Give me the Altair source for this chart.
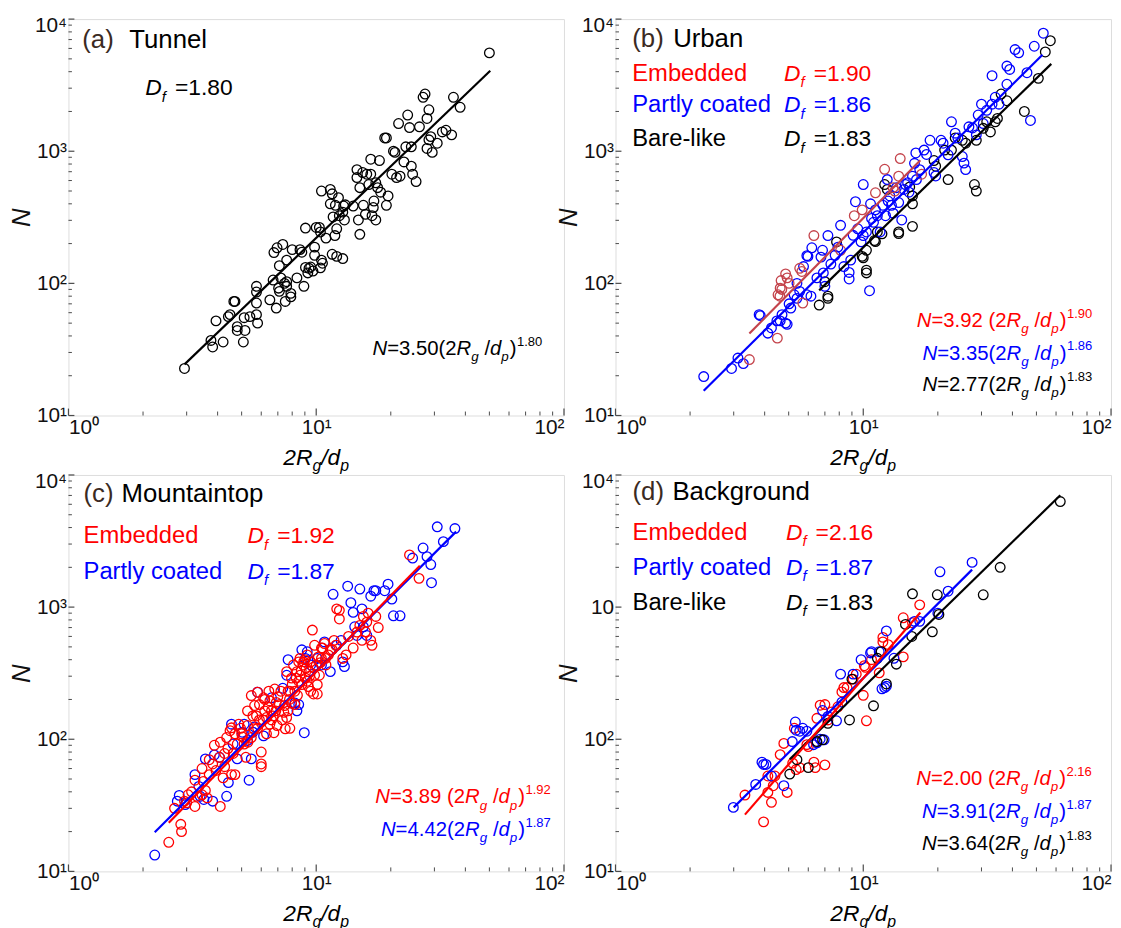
import altair as alt
import pandas as pd

FONT = "Liberation Sans"
W, H = 500, 400
SX, SY = W / 503.0, H / 400.0
FRAME = "#4a4a4a"
RED, BLUE, BLACK, BROWNRED = "#ff0000", "#0000ff", "#000000", "#c4434b"
HEADC = "#3b2a22"

# ---------------- axes ----------------
X_TICK_VALUES = [1, 10, 100]
X_TICK_LABELS = ["10⁰", "10¹", "10²"]
Y_TICK_VALUES = [10, 100, 1000, 10000]
Y_TICK_LABELS = ["10¹", "10²", "10³", "10⁴"]
Y_TICK_LABELS_D = ["10¹", "10²", "10", "10⁴"]
X_MINOR = [2, 3, 4, 5, 6, 7, 8, 9, 20, 30, 40, 50, 60, 70, 80, 90]
Y_MINOR = [20, 30, 40, 50, 60, 70, 80, 90, 200, 300, 400, 500, 600, 700, 800, 900,
           2000, 3000, 4000, 5000, 6000, 7000, 8000, 9000]

# ---------------- data (2Rg/dp, N) ----------------
a_black = [(2.94, 22.7), (3.76, 37), (3.82, 33), (4.21, 36), (3.94, 52), (4.42, 56), (4.49, 58), (4.7, 73),
           (4.65, 73), (4.8, 44), (4.8, 47), (5.08, 36), (5.16, 44), (5.12, 55), (5.4, 56), (5.74, 95),
           (5.74, 86), (5.74, 71), (5.74, 58), (5.8, 50), (6.5, 75), (6.7, 106), (6.75, 171), (6.9, 65),
           (6.95, 186), (7.1, 136), (7.2, 110), (7.33, 197), (7.05, 92), (7.1, 87), (7.45, 100), (7.6, 95),
           (7.6, 103), (7.5, 73), (7.9, 79), (7.9, 84), (8.0, 180), (8.36, 110), (8.6, 180), (8.75, 172),
           (8.92, 95), (9.05, 262), (9.05, 132), (9.25, 120), (9.35, 130), (9.5, 133), (9.7, 124), (9.85, 188),
           (9.85, 163), (10.0, 265), (10.3, 265), (10.4, 245), (10.4, 131), (10.5, 500), (10.5, 150),
           (10.6, 142), (10.95, 220), (11.4, 514), (11.6, 476), (11.4, 400), (11.6, 166), (11.7, 318),
           (11.9, 230), (11.95, 390), (12.1, 259), (12.3, 445), (12.4, 325), (12.1, 160), (12.8, 154),
           (12.8, 346), (12.9, 385), (13.0, 302), (13.1, 393), (14.1, 385), (14.6, 726), (14.6, 632),
           (14.8, 302), (15.0, 235), (15.0, 530), (15.4, 690), (15.5, 390), (15.8, 333), (16.0, 670),
           (16.3, 560), (16.6, 870), (16.6, 670), (16.8, 325), (17.0, 375), (17.1, 420), (17.4, 577),
           (17.4, 302), (17.7, 530), (18.0, 850), (18.2, 490), (18.9, 1260), (19.2, 1260), (19.2, 390),
           (19.5, 459), (20.2, 670), (20.5, 1000), (20.8, 980), (21.1, 632), (21.5, 1620), (21.8, 647),
           (22.6, 830), (23.0, 1080), (23.4, 1880), (23.8, 1510), (24.2, 770), (24.2, 1080), (24.5, 670),
           (25.3, 590), (26.1, 1530), (27.0, 2560), (27.5, 2710), (28.0, 1770), (28.5, 2060), (28.0, 1050),
           (28.5, 1220), (29.0, 1290), (29.4, 980), (30.8, 1150), (32.3, 1400), (33.4, 1440), (35.2, 1330),
           (35.8, 2560), (38.1, 2150), (50.0, 5550), (7.6, 150)]

b_red = [(3.47, 26.5), (4.5, 38.5), (4.53, 82), (4.62, 92), (4.66, 105), (4.86, 118), (4.93, 110),
         (5.02, 100), (5.54, 130), (5.65, 123), (5.7, 71), (6.32, 230), (8.1, 178), (9.2, 325), (9.9, 360),
         (11.2, 485), (12.2, 730), (13.2, 530), (13.4, 500), (13.9, 647), (14.1, 880), (17.2, 670),
         (4.61, 80), (4.69, 90)]
b_blue = [(2.27, 19.7), (2.94, 22.7), (3.12, 27.2), (3.28, 24.7), (3.8, 58), (4.12, 42), (4.26, 46),
          (4.48, 52), (4.62, 52), (4.86, 50), (4.93, 49), (4.7, 58), (5.02, 70), (5.1, 65), (5.26, 82),
          (5.4, 77), (5.54, 87), (5.92, 82), (6.15, 80), (5.74, 134), (5.92, 162), (6.2, 186), (6.75, 158),
          (6.85, 178), (7.2, 230), (7.7, 163), (7.9, 188), (8.1, 275), (8.35, 134), (8.77, 108), (8.77, 121),
          (8.9, 150), (9.1, 231), (9.3, 415), (9.5, 259), (9.8, 206), (10.0, 560), (10.0, 230), (10.3, 245),
          (10.6, 88), (10.7, 400), (10.8, 310), (11.0, 290), (11.4, 325), (11.7, 245), (12.0, 390),
          (12.3, 325), (12.5, 610), (12.8, 459), (13.0, 390), (13.2, 340), (13.6, 530), (13.9, 409),
          (14.3, 302), (14.6, 514), (15.1, 577), (15.3, 490), (15.8, 647), (16.1, 810), (16.3, 970),
          (16.4, 610), (16.9, 726), (17.6, 1020), (18.0, 945), (18.6, 1210), (19.3, 690), (19.6, 650),
          (20.6, 1210), (21.0, 1150), (22.0, 940), (22.7, 1670), (23.5, 1370), (24.1, 1260), (25.1, 912),
          (25.5, 813), (25.9, 726), (26.7, 1530), (27.6, 1500), (28.6, 1330), (29.1, 1880), (30.0, 2270),
          (30.5, 1620), (31.5, 2040), (33.1, 3730), (33.1, 2270), (34.1, 2560), (35.3, 2270), (38.0, 3210),
          (38.0, 4410), (39.0, 4160), (41.0, 5880), (42.4, 5560), (45.8, 3930), (47.3, 1710), (49.0, 6230),
          (53.3, 7820), (6.9, 120), (7.4, 140), (5.4, 100), (6.5, 110), (7.0, 95), (11.2, 360), (12.6, 420),
          (14.8, 560), (3.84, 57), (5.98, 160)]
b_black = [(6.64, 68.5), (7.2, 80), (7.2, 77), (7.0, 103), (7.8, 206), (10.0, 156), (10.3, 126), (10.3, 120),
           (10.3, 178), (11.1, 211), (11.4, 245), (11.9, 237), (12.2, 560), (12.5, 514), (13.9, 245),
           (13.9, 238), (15.8, 270), (15.8, 400), (15.8, 459), (19.3, 850), (19.6, 770), (22.0, 610),
           (22.7, 1020), (25.1, 1210), (25.9, 1150), (28.1, 560), (28.6, 500), (28.6, 1210), (30.5, 1490),
           (31.5, 1670), (32.6, 1400), (34.1, 1670), (34.8, 1770), (36.0, 2710), (38.0, 2410), (44.7, 2000),
           (50.9, 3560), (54.3, 5640), (56.9, 6860), (21.3, 1020), (23.5, 1260), (15.4, 537), (9.9, 160),
           (11.2, 207)]

c_red = [(2.54, 16.6), (2.84, 22.7), (2.86, 20), (2.68, 30), (2.94, 34), (3.0, 33), (3.14, 40), (3.24, 31),
         (3.3, 37), (3.46, 38), (3.57, 41), (3.63, 36), (3.46, 60), (3.88, 90), (3.94, 58), (4.1, 31),
         (4.21, 51), (4.27, 62), (4.27, 78), (4.35, 103), (4.49, 116), (4.55, 54), (4.62, 78), (4.7, 54),
         (4.8, 92), (4.87, 130), (4.95, 121), (5.03, 104), (5.12, 92), (5.2, 73), (5.28, 127), (5.47, 103),
         (5.55, 150), (5.64, 180), (5.8, 227), (5.9, 183), (6.0, 80), (6.0, 65), (6.0, 62), (6.13, 206),
         (6.2, 164), (6.3, 146), (6.44, 231), (6.5, 195), (6.6, 140), (6.75, 112), (6.87, 164), (6.95, 127),
         (7.1, 183), (7.2, 231), (7.3, 140), (7.6, 146), (7.7, 164), (7.83, 121), (7.95, 290), (8.1, 365),
         (8.2, 231), (8.36, 325), (8.5, 385), (8.6, 305), (8.75, 259), (8.9, 385), (9.05, 290), (9.2, 435),
         (9.35, 325), (9.5, 231), (9.65, 670), (9.75, 220), (9.85, 514), (10.0, 365), (10.1, 259),
         (10.3, 305), (10.5, 409), (10.6, 490), (10.8, 530), (10.95, 365), (11.2, 435), (11.6, 476),
         (12.0, 514), (12.1, 970), (12.4, 945), (12.4, 813), (12.8, 409), (13.2, 435), (14.1, 490),
         (14.6, 647), (15.0, 726), (15.3, 560), (15.5, 850), (16.0, 770), (16.6, 560), (16.8, 514),
         (17.4, 850), (23.8, 2480), (26.0, 1650), (5.28, 164), (5.47, 214), (5.74, 150), (6.3, 110),
         (6.5, 130), (6.6, 164), (7.45, 180), (7.6, 325), (7.83, 231), (8.2, 183), (8.5, 275), (8.6, 409),
         (8.85, 365), (9.1, 345), (9.2, 275), (9.5, 385), (9.85, 305), (10.1, 220), (10.5, 490), (10.9, 409),
         (11.4, 476), (4.55, 122), (4.7, 110), (4.07, 73), (3.82, 65), (3.7, 54), (3.24, 49), (3.04, 38),
         (5.8, 121), (6.1, 140), (7.7, 231), (7.95, 188), (5.0, 110), (5.3, 95), (5.6, 120), (5.9, 140),
         (6.2, 200), (6.4, 175), (6.7, 150), (6.9, 190), (7.0, 210), (7.4, 160), (7.8, 200), (8.0, 260),
         (8.3, 290), (8.7, 330), (9.0, 400), (9.4, 300), (9.7, 350), (10.2, 420), (4.4, 85), (4.1, 95),
         (3.7, 70), (3.5, 48), (6.8, 240), (7.5, 120), (8.4, 215), (9.3, 250), (10.4, 380), (11.8, 560),
         (13.5, 600), (15.8, 650), (16.2, 900), (17.8, 700)]
c_blue = [(2.23, 13.3), (2.75, 34), (2.8, 37.6), (2.96, 32), (3.24, 54), (3.36, 44), (3.4, 37), (3.52, 35),
          (3.57, 71), (3.82, 34), (3.88, 76), (4.07, 73), (4.35, 37), (4.42, 47), (4.55, 130), (4.62, 92),
          (4.8, 71), (5.03, 113), (5.12, 130), (5.28, 98), (5.36, 49), (5.47, 71), (5.55, 113), (5.64, 124),
          (5.8, 227), (6.13, 106), (6.6, 206), (7.33, 243), (7.6, 305), (7.7, 400), (7.95, 188), (8.2, 188),
          (8.36, 164), (8.5, 183), (8.75, 475), (8.95, 112), (9.05, 409), (9.2, 459), (9.5, 365), (10.1, 409),
          (10.5, 365), (10.8, 545), (11.4, 325), (11.7, 1250), (12.1, 514), (12.6, 560), (12.8, 385),
          (13.0, 355), (13.4, 1440), (13.8, 1080), (14.1, 912), (14.3, 710), (14.6, 610), (15.0, 1370),
          (15.3, 970), (15.5, 710), (16.0, 610), (16.6, 1210), (17.1, 1330), (17.4, 1330), (18.9, 1330),
          (19.5, 1490), (20.2, 1150), (20.5, 860), (21.8, 860), (24.5, 2350), (27.0, 2800), (28.0, 2410),
          (29.0, 2100), (29.2, 1530), (30.8, 4050), (32.6, 3130), (36.3, 3930)]

d_red = [(3.33, 37.8), (3.96, 23.7), (4.12, 52.7), (4.12, 39.6), (4.26, 33.3), (4.33, 44.5), (4.4, 52.7),
         (4.62, 76.5), (4.78, 93), (4.93, 39.6), (5.19, 66), (5.27, 121), (5.36, 59), (5.54, 61), (5.92, 91),
         (6.0, 88), (6.32, 67), (6.4, 61), (6.5, 144), (6.7, 181), (7.0, 183), (7.0, 64), (7.2, 140),
         (7.45, 161), (7.9, 176), (8.2, 228), (8.35, 246), (8.6, 246), (9.1, 285), (9.37, 311), (10.1, 360),
         (10.2, 350), (10.3, 138), (10.8, 400), (11.6, 318), (12.0, 590), (12.0, 545), (12.6, 520),
         (14.5, 830), (14.5, 420), (16.9, 1040), (15.8, 762), (10.0, 215)]
d_blue = [(2.99, 30.5), (3.68, 45.5), (3.9, 67), (3.96, 64.5), (4.05, 64.5), (4.26, 52.7), (4.78, 44.5),
          (5.17, 96), (5.32, 135), (5.36, 117), (5.54, 115), (5.7, 121), (5.92, 115), (6.3, 91), (6.5, 94),
          (6.7, 100), (6.85, 165), (6.95, 99), (7.2, 149), (7.8, 138), (8.1, 311), (8.2, 191), (9.1, 311),
          (9.8, 400), (10.7, 450), (10.8, 460), (11.6, 460), (11.9, 241), (12.2, 246), (12.4, 660),
          (12.4, 252), (13.3, 410), (16.1, 780), (16.9, 780), (20.0, 900), (20.4, 1850), (22.0, 1320),
          (27.5, 2180)]
d_black = [(5.05, 54.5), (5.4, 70), (6.0, 61), (6.5, 96), (6.85, 99), (7.2, 132), (8.8, 140), (9.0, 285),
           (11.0, 179), (11.8, 460), (12.4, 262), (13.6, 370), (14.8, 740), (15.7, 600), (15.8, 1260),
           (19.0, 650), (19.9, 1240), (20.2, 880), (30.5, 1240), (35.7, 2000), (62.4, 6290), (11.4, 410)]

# fits: N = coef * (2Rg/dp)^Df over the drawn range
fit_a = [(3.50, 1.80, 2.94, 50.4, BLACK)]
fit_b = [(2.77, 1.83, 6.64, 57.4, BLACK), (3.35, 1.86, 2.27, 52.9, BLUE), (3.92, 1.90, 3.47, 17.0, BROWNRED)]
fit_c = [(4.42, 1.87, 2.23, 36.7, BLUE), (3.89, 1.92, 2.54, 26.2, RED)]
fit_d = [(3.64, 1.83, 5.05, 62.4, BLACK), (3.91, 1.87, 3.0, 27.5, BLUE), (2.00, 2.16, 3.33, 17.0, RED)]

# ---------------- annotation text ----------------
head_a = [("(a)", 14, "Tunnel", 61.7, 29)]
head_b = [("(b)", 17, "Urban", 58.5, 28.5)]
head_c = [("(c)", 15.3, "Mountaintop", 53.9, 27.6)]
head_d = [("(d)", 17.3, "Background", 57.8, 25.4)]

legend_a = []
legend_b = [("Embedded", RED, 17, 62.4), ("Partly coated", BLUE, 17, 94), ("Bare-like", BLACK, 17, 128.5)]
legend_c = [("Embedded", RED, 15.3, 69), ("Partly coated", BLUE, 15.3, 105)]
legend_d = [("Embedded", RED, 17.3, 65.6), ("Partly coated", BLUE, 17.3, 101), ("Bare-like", BLACK, 17.3, 136)]

df_a = [("1.80", BLACK, 78, 77)]
df_b = [("1.90", RED, 171, 62.4), ("1.86", BLUE, 171, 94), ("1.83", BLACK, 171, 128.5)]
df_c = [("1.92", RED, 181.7, 69), ("1.87", BLUE, 181.7, 105)]
df_d = [("2.16", RED, 173, 65.6), ("1.87", BLUE, 173, 101), ("1.83", BLACK, 173, 136)]

eq_a = [("3.50", "1.80", BLACK, False, 481, 339)]
eq_b = [("3.92", "1.90", RED, True, 484, 311), ("3.35", "1.86", BLUE, False, 484, 343.6),
        ("2.77", "1.83", BLACK, False, 484, 374.8)]
eq_c = [("3.89", "1.92", RED, True, 489.6, 331.5), ("4.42", "1.87", BLUE, False, 489.6, 364.7)]
eq_d = [("2.00", "2.16", RED, True, 483.5, 313), ("3.91", "1.87", BLUE, False, 483.5, 346),
        ("3.64", "1.83", BLACK, False, 483.5, 378)]

# ---------------- helpers ----------------
CW = {'0': .556, '1': .556, '2': .556, '3': .556, '4': .556, '5': .556, '6': .556, '7': .556, '8': .556,
      '9': .556, '.': .278, '=': .584, '(': .333, ')': .333, '/': .278, ' ': .278, 'N': .722, 'R': .722,
      'D': .722, 'd': .556, 'g': .556, 'p': .556, 'f': .278}


def tw(s, fs):
    return sum(CW.get(c, .556) for c in s) * fs


def run(parts, x0, base, color):
    segs, x = [], x0
    for t, fs, st, dy, gap in parts:
        x += gap
        segs.append((x, base + dy, t, fs, st, color))
        x += tw(t, fs)
    return segs


def width(parts):
    return sum(tw(t, fs) + gap for t, fs, st, dy, gap in parts)


def eq_parts(coef, expo, F=20.5, space=False):
    sub, sup = 0.66 * F, 0.64 * F
    return [("N", F, "italic", 0, 0), ("=" + coef, F, "normal", 0, 0),
            ("(2", F, "normal", 0, 0.28 * F if space else 0), ("R", F, "italic", 0, 0),
            ("g", sub, "italic", 0.3 * F, 0), ("/", F, "normal", 0, 0.28 * F), ("d", F, "italic", 0, 0),
            ("p", sub, "italic", 0.3 * F, 0), (")", F, "normal", 0, 0.05 * F),
            (expo, sup, "normal", -0.45 * F, 0.02 * F)]


def df_parts(val, F=23):
    return [("D", F, "italic", 0, 0), ("f", 0.65 * F, "italic", 0.28 * F, 0), ("=" + val, F, "normal", 0, 0.4 * F)]


XT_PARTS = [("2", 23, "italic", 0, 0), ("R", 23, "italic", 0, 0), ("g", 16, "italic", 6, 0),
            ("/", 23, "italic", 0, 0), ("d", 23, "italic", 0, 0), ("p", 16, "italic", 6, 0)]


def label_expr(values, labels):
    expr = "''"
    for v, l in reversed(list(zip(values, labels))):
        expr = f"datum.value == {v} ? '{l}' : {expr}"
    return expr


XS = alt.Scale(type="log", domain=[1, 100], nice=False)
YS = alt.Scale(type="log", domain=[10, 10000], nice=False)
ONE = pd.DataFrame({"k": [0]})


def x_axis():
    return alt.Axis(values=X_TICK_VALUES, labelExpr=label_expr(X_TICK_VALUES, X_TICK_LABELS), labelFlush=True,
                    ticks=False, grid=False, domain=False, title=None, labelFont=FONT, labelFontSize=21,
                    labelColor="#111111", labelPadding=1)


def y_axis(labels):
    return alt.Axis(values=Y_TICK_VALUES, labelExpr=label_expr(Y_TICK_VALUES, labels), ticks=False, grid=False,
                    domain=False, title="N", titleFont=FONT, titleFontSize=26, titleFontStyle="italic",
                    titleFontWeight="normal", titleColor="#111111", titlePadding=0, labelFont=FONT,
                    labelFontSize=21, labelColor="#111111", labelPadding=2,
                    labelOffset={"condition": {"test": "datum.value == 10000", "value": 7}, "value": 0})


def panel(series, fits, heads, legend, dfs, eqs, ylabels):
    xax, yax = x_axis(), y_axis(ylabels)
    X = alt.X("x:Q", scale=XS, axis=xax)
    Y = alt.Y("n:Q", scale=YS, axis=yax)
    layers = []
    ymaj = pd.DataFrame({"n": Y_TICK_VALUES})
    ymin = pd.DataFrame({"n": Y_MINOR})
    xmaj = pd.DataFrame({"x": X_TICK_VALUES})
    xmin = pd.DataFrame({"x": X_MINOR})
    layers.append(alt.Chart(ymaj).mark_rule(color=FRAME, strokeWidth=1.2).encode(y=Y, x=alt.value(0), x2=alt.value(6)))
    layers.append(alt.Chart(ymin).mark_rule(color=FRAME, strokeWidth=1.0).encode(y=Y, x=alt.value(0), x2=alt.value(3.5)))
    layers.append(alt.Chart(xmaj).mark_rule(color=FRAME, strokeWidth=1.2).encode(x=X, y=alt.value(H), y2=alt.value(H - 7)))
    layers.append(alt.Chart(xmin).mark_rule(color=FRAME, strokeWidth=1.0).encode(x=X, y=alt.value(H), y2=alt.value(H - 4)))
    for pts, col in series:
        df = pd.DataFrame(pts, columns=["x", "n"])
        layers.append(alt.Chart(df).mark_point(shape="circle", filled=False, size=95, strokeWidth=1.3,
                                               color=col, opacity=1).encode(x=X, y=Y))
    for coef, D, x0, x1, col in fits:
        df = pd.DataFrame({"x": [x0, x1], "n": [coef * x0 ** D, coef * x1 ** D]})
        layers.append(alt.Chart(df).mark_line(color=col, strokeWidth=2.2).encode(x=X, y=Y))
    segs = []
    for tag, tx, word, wx, base in heads:
        segs.append((tx * SX, base * SY, tag, 26, "normal", HEADC))
        segs.append((wx * SX, base * SY, word, 26, "normal", BLACK))
    for word, col, lx, base in legend:
        segs.append((lx * SX, base * SY, word, 24, "normal", col))
    for val, col, lx, base in dfs:
        segs += run(df_parts(val), lx * SX, base * SY, col)
    for coef, expo, col, sp, right, base in eqs:
        parts = eq_parts(coef, expo, space=sp)
        segs += run(parts, right * SX - width(parts), base * SY, col)
    segs += run(XT_PARTS, W / 2 - width(XT_PARTS) / 2, H + 50, BLACK)
    for x, y, t, fs, st, col in segs:
        layers.append(alt.Chart(ONE).mark_text(text=t, font=FONT, fontSize=fs, fontStyle=st, color=col,
                                               align="left", baseline="alphabetic").encode(
            x=alt.value(x), y=alt.value(y)))
    return alt.layer(*layers).properties(width=W, height=H)


pa = panel([(a_black, BLACK)], fit_a, head_a, legend_a, df_a, eq_a, Y_TICK_LABELS)
pb = panel([(b_black, BLACK), (b_blue, BLUE), (b_red, BROWNRED)], fit_b, head_b, legend_b, df_b, eq_b,
           Y_TICK_LABELS)
pc = panel([(c_blue, BLUE), (c_red, RED)], fit_c, head_c, legend_c, df_c, eq_c, Y_TICK_LABELS)
pd_ = panel([(d_red, RED), (d_blue, BLUE), (d_black, BLACK)], fit_d, head_d, legend_d, df_d, eq_d,
            Y_TICK_LABELS_D)

chart = alt.concat(pa, pb, pc, pd_, columns=2, spacing={"row": 60, "column": 52}, bounds="flush").properties(
    padding={"left": 0, "top": 2, "right": 0, "bottom": 0}
).configure_view(stroke=FRAME, strokeWidth=1.5).configure(font=FONT)

chart.save("out.html", embed_options={"renderer": "svg", "actions": False})
